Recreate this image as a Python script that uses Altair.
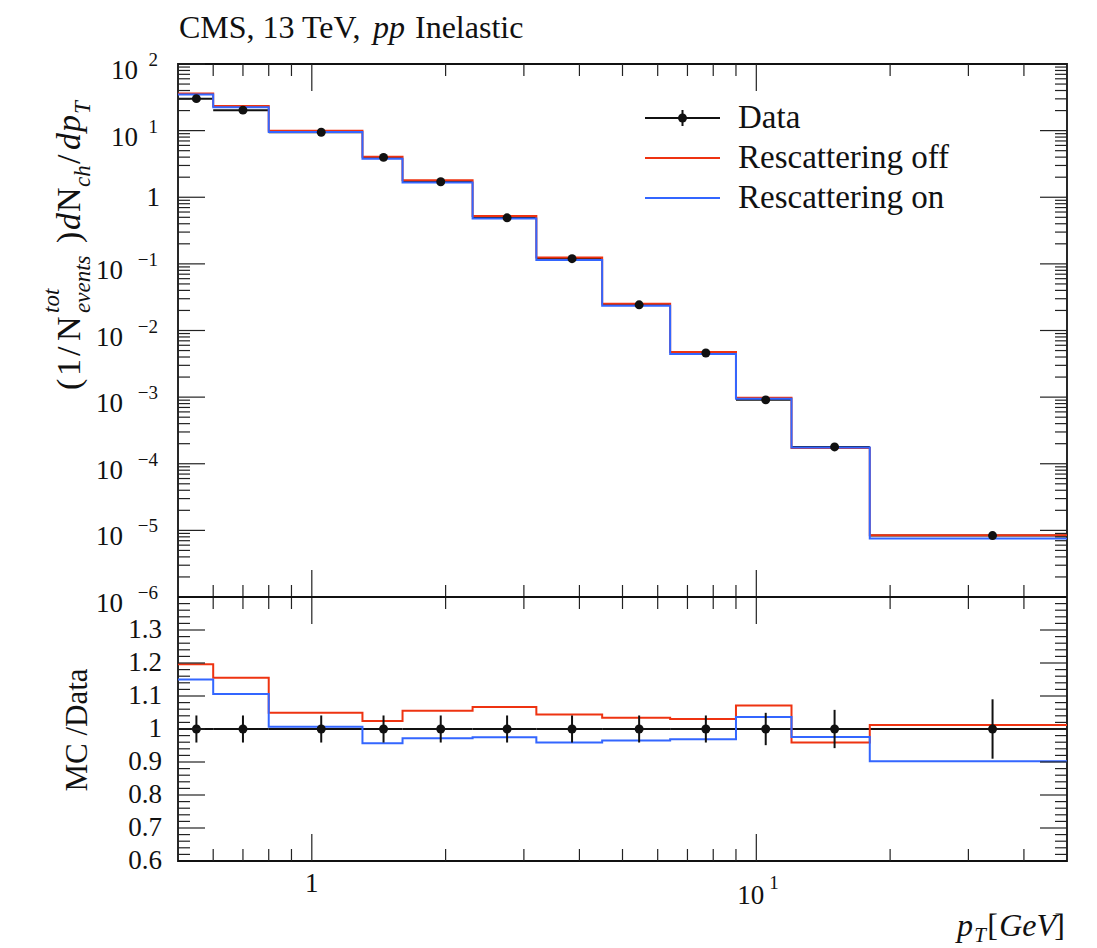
import altair as alt
import pandas as pd

# ---------------- measured spectrum and generator comparisons ----------------
bin_edges = [0.5, 0.6, 0.8, 1.3, 1.6, 2.3, 3.2, 4.5, 6.4, 9.0, 12.0, 18.0, 50.0]
data_pt = [0.55, 0.70, 1.05, 1.45, 1.95, 2.75, 3.85, 5.45, 7.7, 10.5, 15.0, 34.0]
data_val = [30.2, 20.3, 9.46, 3.97, 1.71, 0.491, 0.1197, 0.0243, 0.0046,
            9.1e-4, 1.79e-4, 8.36e-6]
data_relerr = [0.041, 0.041, 0.041, 0.041, 0.041, 0.041, 0.041, 0.041, 0.041,
               0.049, 0.058, 0.090]
# MC / Data ratios per bin
ratio_off = [1.196, 1.155, 1.049, 1.024, 1.055, 1.067, 1.044, 1.034, 1.030,
             1.071, 0.959, 1.012]
ratio_on = [1.150, 1.106, 1.007, 0.957, 0.972, 0.975, 0.959, 0.965, 0.969,
            1.036, 0.976, 0.902]

# axis decorations
y_decades = [-6, -5, -4, -3, -2, -1, 0, 1, 2]
x_major = [1.0, 10.0]
x_minor = [0.6, 0.7, 0.8, 0.9, 2, 3, 4, 5, 6, 7, 8, 9, 20, 30, 40]
ratio_major = [0.7, 0.8, 0.9, 1.0, 1.1, 1.2, 1.3]
ratio_labels = ["0.6", "0.7", "0.8", "0.9", "1", "1.1", "1.2", "1.3"]
ratio_label_vals = [0.6, 0.7, 0.8, 0.9, 1.0, 1.1, 1.2, 1.3]

RED = "#EE3311"
BLUE = "#3366FF"
INK = "#111111"
FONT = "Liberation Serif"

# ---------------- geometry ----------------
W = 889
H_TOP = 533
H_BOT = 264
H = H_TOP + H_BOT
MAJ = 27
MIN = 12

XS = alt.Scale(type="log", domain=[0.5, 50], nice=False)
YTOP = alt.Scale(type="log", domain=[1e-6, 1e2], range=[H_TOP, 0], nice=False)
YBOT = alt.Scale(type="linear", domain=[0.6, 1.4], range=[H, H_TOP], nice=False, zero=False)


def X(field):
    return alt.X(field, type="quantitative", scale=XS, axis=None)


def Y(field, scale):
    return alt.Y(field, type="quantitative", scale=scale, axis=None)


def step_table(values):
    rows = []
    for i, v in enumerate(values):
        rows.append({"x": bin_edges[i], "y": v, "o": 2 * i})
        rows.append({"x": bin_edges[i + 1], "y": v, "o": 2 * i + 1})
    return pd.DataFrame(rows)


mc_off = [d * r for d, r in zip(data_val, ratio_off)]
mc_on = [d * r for d, r in zip(data_val, ratio_on)]

pts = pd.DataFrame({
    "pt": data_pt,
    "lo": bin_edges[:-1],
    "hi": bin_edges[1:],
    "val": data_val,
    "elo": [v * (1 - e) for v, e in zip(data_val, data_relerr)],
    "ehi": [v * (1 + e) for v, e in zip(data_val, data_relerr)],
    "one": [1.0] * len(data_val),
    "rlo": [1 - e for e in data_relerr],
    "rhi": [1 + e for e in data_relerr],
})

one_row = pd.DataFrame({"k": [0]})
layers = []
DOT = 80


def steps(values, scale, color):
    return alt.Chart(step_table(values)).mark_line(
        color=color, strokeWidth=2, strokeJoin="miter"
    ).encode(x=X("x"), y=Y("y", scale), order=alt.Order("o:Q"))


# ---------------- upper panel: spectrum ----------------
layers.append(alt.Chart(pts).mark_rule(color=INK, strokeWidth=2).encode(
    x=X("lo"), x2="hi", y=Y("val", YTOP)))
layers.append(steps(mc_off, YTOP, RED))
layers.append(steps(mc_on, YTOP, BLUE))
layers.append(alt.Chart(pts).mark_rule(color=INK, strokeWidth=2).encode(
    x=X("pt"), y=Y("elo", YTOP), y2="ehi"))
layers.append(alt.Chart(pts).mark_circle(color=INK, size=DOT, opacity=1).encode(
    x=X("pt"), y=Y("val", YTOP)))

# ---------------- lower panel: ratio ----------------
layers.append(alt.Chart(pts).mark_rule(color=INK, strokeWidth=2).encode(
    x=X("lo"), x2="hi", y=Y("one", YBOT)))
layers.append(steps(ratio_off, YBOT, RED))
layers.append(steps(ratio_on, YBOT, BLUE))
layers.append(alt.Chart(pts).mark_rule(color=INK, strokeWidth=2).encode(
    x=X("pt"), y=Y("rlo", YBOT), y2="rhi"))
layers.append(alt.Chart(pts).mark_circle(color=INK, size=DOT, opacity=1).encode(
    x=X("pt"), y=Y("one", YBOT)))

# ---------------- inward ticks ----------------
TICK = dict(color="#222222", strokeWidth=1.2)


def yticks(values, scale, length):
    df = pd.DataFrame({"v": values})
    left = alt.Chart(df).mark_rule(**TICK).encode(
        y=Y("v", scale), x=alt.value(0), x2=alt.value(length))
    right = alt.Chart(df).mark_rule(**TICK).encode(
        y=Y("v", scale), x=alt.value(W - length), x2=alt.value(W))
    return [left, right]


def xticks(values, y_edge, length, downward):
    df = pd.DataFrame({"v": values})
    if downward:
        enc = dict(y=alt.value(y_edge), y2=alt.value(y_edge + length))
    else:
        enc = dict(y=alt.value(y_edge - length), y2=alt.value(y_edge))
    return alt.Chart(df).mark_rule(**TICK).encode(x=X("v"), **enc)


top_major = [10.0 ** e for e in y_decades]
top_minor = [k * 10.0 ** e for e in y_decades[:-1] for k in range(2, 10)]
ratio_minor = [round(0.6 + 0.02 * i, 2) for i in range(1, 40) if i % 5 != 0]

layers += yticks(top_major, YTOP, MAJ)
layers += yticks(top_minor, YTOP, MIN)
layers += yticks(ratio_major, YBOT, MAJ)
layers += yticks(ratio_minor, YBOT, MIN)
for edge, down in [(0, True), (H_TOP, False), (H_TOP, True), (H, False)]:
    layers.append(xticks(x_major, edge, MAJ, down))
    layers.append(xticks(x_minor, edge, MIN, down))

# panel separator
layers.append(alt.Chart(one_row).mark_rule(color=INK, strokeWidth=1.8).encode(
    x=alt.value(0), x2=alt.value(W), y=alt.value(H_TOP)))

# ---------------- tick labels ----------------
LBL = 27
SUP = 19
pos_exp = pd.DataFrame({"v": [10.0 ** e for e in y_decades if e > 0],
                        "e": [str(e) for e in y_decades if e > 0]})
neg_exp = pd.DataFrame({"v": [10.0 ** e for e in y_decades if e < 0],
                        "e": ["\u2212" + str(-e) for e in y_decades if e < 0]})
for df, base_x in [(pos_exp, -40), (neg_exp, -55)]:
    layers.append(alt.Chart(df).mark_text(
        text="10", font=FONT, fontSize=LBL, align="right", baseline="alphabetic",
        dy=15, color=INK).encode(y=Y("v", YTOP), x=alt.value(base_x)))
    layers.append(alt.Chart(df).mark_text(
        font=FONT, fontSize=SUP, align="right", baseline="alphabetic",
        dy=2, color=INK).encode(y=Y("v", YTOP), x=alt.value(-20), text="e:N"))
layers.append(alt.Chart(pd.DataFrame({"v": [1.0]})).mark_text(
    text="1", font=FONT, fontSize=LBL, align="right", baseline="alphabetic",
    dy=9, color=INK).encode(y=Y("v", YTOP), x=alt.value(-18)))

layers.append(alt.Chart(pd.DataFrame({"v": ratio_label_vals, "t": ratio_labels})).mark_text(
    font=FONT, fontSize=LBL, align="right", baseline="middle", color=INK
).encode(y=Y("v", YBOT), x=alt.value(-16), text="t:N"))

layers.append(alt.Chart(pd.DataFrame({"v": [1.0]})).mark_text(
    text="1", font=FONT, fontSize=LBL, align="center", baseline="alphabetic",
    color=INK).encode(x=X("v"), y=alt.value(H + 31)))
layers.append(alt.Chart(pd.DataFrame({"v": [10.0]})).mark_text(
    text="10", font=FONT, fontSize=LBL, align="right", baseline="alphabetic",
    dx=8, color=INK).encode(x=X("v"), y=alt.value(H + 43)))
layers.append(alt.Chart(pd.DataFrame({"v": [10.0]})).mark_text(
    text="1", font=FONT, fontSize=SUP, align="left", baseline="alphabetic",
    dx=13, color=INK).encode(x=X("v"), y=alt.value(H + 28)))


# ---------------- free text ----------------
def label(text, x, y, size, italic=False, angle=0, align="left"):
    kw = dict(text=text, font=FONT, fontSize=size, align=align,
              baseline="alphabetic", color=INK)
    if italic:
        kw["fontStyle"] = "italic"
    if angle:
        kw["angle"] = angle
    return alt.Chart(one_row).mark_text(**kw).encode(x=alt.value(x), y=alt.value(y))


# title
layers.append(label("CMS, 13 TeV,", 1, -26, 32))
layers.append(label("pp", 195, -26, 32, italic=True))
layers.append(label("Inelastic", 237, -26, 32))

# x axis title, laid out from the right edge
layers.append(label("]", 887, H + 75, 32, align="right"))
layers.append(label("GeV", 878, H + 75, 32, italic=True, align="right"))
layers.append(label("[", 820, H + 75, 32, align="right"))
layers.append(label("T", 808, H + 81, 21, italic=True, align="right"))
layers.append(label("p", 795, H + 75, 32, italic=True, align="right"))

# y axis title of the spectrum panel (rotated, reads bottom to top)
ytitle = [
    ("(", 390, -98, 34, False), ("1", 376, -98, 34, False),
    ("/", 356, -98, 34, False), ("N", 341, -98, 34, False),
    ("tot", 313, -119, 23, True), ("events", 313, -88, 23, True),
    (")", 243, -98, 34, False), ("d", 230, -98, 34, True),
    ("N", 212, -98, 34, False), ("ch", 187, -88, 23, True),
    ("/", 164, -98, 34, False), ("d", 150, -98, 34, True),
    ("p", 132, -98, 34, True), ("T", 114, -88, 23, True),
]
for t, yimg, xr, sz, it in ytitle:
    layers.append(label(t, xr, yimg - 64, sz, italic=it, angle=270))

# ratio panel title
layers.append(label("MC /Data", -91, 666, 31, angle=270, align="center"))

# ---------------- legend ----------------
LEG_X0, LEG_X1, LEG_TX = 467, 542, 560
legend_rows = [("Data", INK, 54), ("Rescattering off", RED, 94), ("Rescattering on", BLUE, 134)]
for name, col, ly in legend_rows:
    layers.append(alt.Chart(one_row).mark_rule(color=col, strokeWidth=2).encode(
        x=alt.value(LEG_X0), x2=alt.value(LEG_X1), y=alt.value(ly)))
    layers.append(label(name, LEG_TX, ly + 10, 33))
layers.append(alt.Chart(one_row).mark_rule(color=INK, strokeWidth=2).encode(
    x=alt.value((LEG_X0 + LEG_X1) / 2), y=alt.value(46), y2=alt.value(62)))
layers.append(alt.Chart(one_row).mark_circle(color=INK, size=DOT, opacity=1).encode(
    x=alt.value((LEG_X0 + LEG_X1) / 2), y=alt.value(54)))

chart = alt.layer(*layers).resolve_scale(y="independent").properties(
    width=W,
    height=H,
    padding={"left": 178, "top": 64, "right": 30, "bottom": 87},
    autosize=alt.AutoSizeParams(type="none"),
    background="white",
).configure_view(stroke=INK, strokeWidth=1.8)

chart.save("out.html", embed_options={"renderer": "svg", "actions": False})
